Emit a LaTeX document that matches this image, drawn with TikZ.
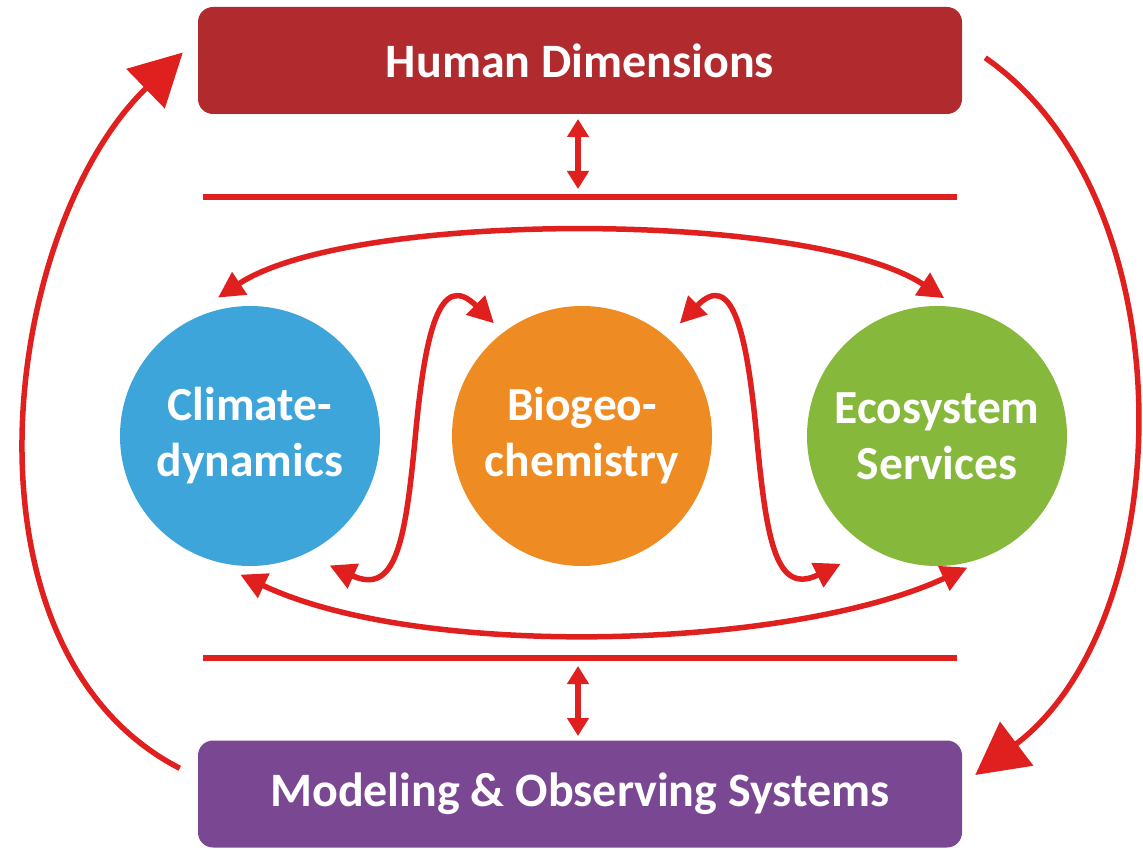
\documentclass[tikz,border=0pt]{standalone}
\usepackage{fontspec}
\setmainfont{Carlito}
\usetikzlibrary{arrows.meta,calc}
\definecolor{lred}{HTML}{E0201F}
\definecolor{hdred}{HTML}{B02A2E}
\definecolor{mpurple}{HTML}{7A4893}
\definecolor{cblue}{HTML}{3DA5DA}
\definecolor{corange}{HTML}{EE8B22}
\definecolor{cgreen}{HTML}{86B83B}
\tikzset{
  bar/.style={rounded corners=15pt, minimum width=764pt, minimum height=107pt, text=white, inner sep=0pt,
    font=\fontsize{48}{54}\selectfont\bfseries},
  ball/.style={circle, minimum size=260pt, inner sep=0pt, text=white, align=center,
    font=\fontsize{47.5}{56}\selectfont\bfseries},
  link/.style={draw=lred, line width=5.5pt},
  mid/.style={link, {Triangle[length=26pt,width=26pt]}-{Triangle[length=26pt,width=26pt]}},
  small/.style={link, {Triangle[length=18pt,width=21pt]}-{Triangle[length=18pt,width=21pt]}},
  big/.style={link, -{Triangle[length=52pt,width=54pt]}}
}
\begin{document}
\begin{tikzpicture}[x=1pt,y=1pt]
\useasboundingbox (0,0) rectangle (1143,-850);
\node[bar, fill=hdred] (hd) at (580,-60.5) {Human Dimensions};
\node[bar, fill=mpurple] (mo) at (580,-794) {Modeling \& Observing Systems};
\node[ball, fill=cblue] (clim) at (250,-436) {Climate-\\dynamics};
\node[ball, fill=corange] (bio) at (582,-436) {Biogeo-\\chemistry};
\node[ball, fill=cgreen] (eco) at (937,-436) {Ecosystem\\Services};
% separator lines
\coordinate (l1a) at (203,-197); \coordinate (l1b) at (957,-197);
\coordinate (l2a) at (203,-658); \coordinate (l2b) at (957,-658);
\draw[link] (l1a) -- (l1b);
\draw[link] (l2a) -- (l2b);
% vertical double arrows
\coordinate (v1a) at (578,-119); \coordinate (v1b) at (578,-189);
\coordinate (v2a) at (578,-666); \coordinate (v2b) at (578,-736);
\draw[small] (v1a) -- (v1b);
\draw[small] (v2a) -- (v2b);
% top and bottom arcs
\draw[mid] ($(clim.center)+(103:142)$) .. controls (350,-210) and (810,-210) .. ($(eco.center)+(87:138)$);
\draw[mid] ($(clim.center)+(266:139)$) .. controls (420,-660) and (790,-650) .. ($(eco.center)+(283:135)$);
% S curves
\draw[mid] ($(clim.center)+(301.6:152)$) .. controls (395,-595) and (405,-545) .. (415,-440)
   .. controls (425,-330) and (440,-270) .. ($(bio.center)+(128:143)$);
\draw[mid] ($(bio.center)+(49:149)$) .. controls (732,-270) and (747,-330) .. (757,-440)
   .. controls (767,-545) and (777,-595) .. ($(eco.center)+(233:160)$);
% big arcs
\draw[big] ($(mo.north west)+(-18,-28)$) .. controls (-50,-650) and (0,-230) .. ($(hd.west)+(-15,8)$);
\draw[big] ($(hd.north east)+(23,-51)$) .. controls (1190,-200) and (1180,-620) .. ($(mo.east)+(13,19)$);
\end{tikzpicture}
\end{document}
